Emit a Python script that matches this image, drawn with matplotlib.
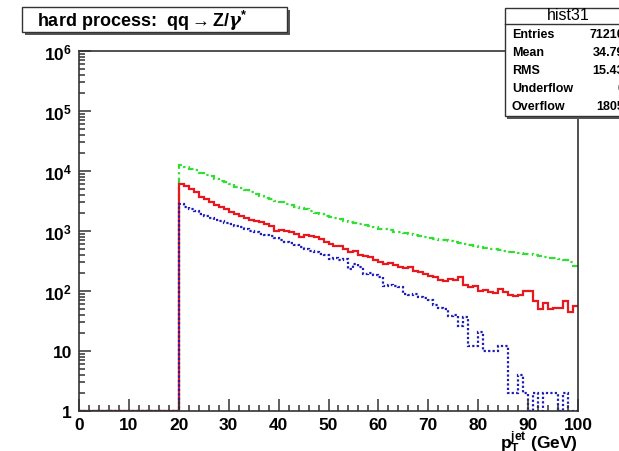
import numpy as np
import matplotlib
matplotlib.use("Agg")
import matplotlib.pyplot as plt
from matplotlib.patches import Rectangle
from matplotlib.ticker import MultipleLocator, LogLocator, FuncFormatter

plt.rcParams.update({
    "font.family": ["Liberation Sans", "DejaVu Sans"],
    "font.weight": "bold",
    "mathtext.fontset": "custom",
    "mathtext.rm": "Liberation Sans:bold",
    "mathtext.bf": "Liberation Sans:bold",
    "mathtext.it": "Liberation Sans:bold:italic",
    "mathtext.sf": "DejaVu Serif:italic",
    "mathtext.default": "bf",
})

# 1 GeV bins, 0..100 ; bins below 20 GeV are empty
edges = np.arange(0, 101, 1)

green = [0] * 20 + [
    12500, 11800, 10700, 10200, 9300, 8600, 8200, 7400, 6900, 6500,
    6000, 5500, 5300, 4800, 4400, 4100, 3800, 3600, 3400, 3200,
    3000, 2800, 2700, 2500, 2450, 2300, 2150, 2000, 1900, 1800,
    1720, 1650, 1560, 1480, 1420, 1360, 1300, 1240, 1200, 1150,
    1100, 1060, 1020, 980, 950, 910, 880, 850, 820, 790,
    770, 740, 720, 700, 680, 650, 640, 610, 590, 570,
    540, 530, 510, 500, 480, 470, 455, 440, 430, 420,
    410, 395, 380, 370, 360, 350, 345, 330, 300, 260]

red = [0] * 20 + [
    6000, 5600, 5000, 4500, 3700, 3400, 3100, 2700, 2500, 2300,
    2100, 1900, 1800, 1650, 1550, 1480, 1400, 1300, 1230, 1000,
    1050, 1000, 950, 880, 800, 870, 820, 800, 740, 660,
    600, 570, 560, 500, 450, 470, 400, 380, 370, 330,
    300, 285, 290, 270, 250, 240, 250, 215, 205, 195,
    175, 170, 150, 145, 160, 150, 170, 125, 115, 120,
    100, 102, 95, 92, 108, 95, 85, 82, 86, 100,
    100, 68, 50, 62, 50, 52, 53, 68, 45, 57]

blue = [0] * 20 + [
    2800, 2500, 2330, 2150, 1900, 1800, 1650, 1550, 1480, 1380,
    1300, 1230, 1150, 1080, 1000, 950, 900, 850, 830, 760,
    700, 650, 620, 580, 540, 500, 470, 440, 415, 400,
    340, 350, 330, 340, 234, 280, 250, 192, 200, 185,
    170, 120, 125, 120, 115, 90, 85, 88, 80, 75,
    70, 58, 52, 50, 38, 40, 26, 37, 12, 12,
    21, 10, 10, 10, 12, 12, 2, 2, 4, 2,
    1, 2, 1, 2, 2, 2, 1, 2, 1, 1]

stat_names = ["Entries", "Mean", "RMS", "Underflow", "Overflow"]
stat_values = ["71210", "34.79", "15.43", "0", "1805"]

W, H = 619, 452
fig = plt.figure(figsize=(W / 100, H / 100), dpi=100)
ax = fig.add_axes([79 / W, 1 - 412 / H, 499 / W, 360 / H])


def px(x, y):
    return x / W, 1 - y / H


# zero bins sit on the bottom of the log axis, like ROOT does
ax.stairs(np.maximum(green, 1), edges, baseline=None, color="#33dd33",
          lw=1.6, ls=(0, (3, 1.5, 1, 1.5)))
ax.stairs(np.maximum(red, 1), edges, baseline=None, color="#e8191e", lw=1.6)
ax.stairs(np.maximum(blue, 1), edges, baseline=None, color="#1c1cb8",
          lw=1.6, ls=(0, (1, 1)))

ax.set_yscale("log")
ax.set_xlim(0, 100)
ax.set_ylim(1, 1e6)

ax.xaxis.set_major_locator(MultipleLocator(10))
ax.xaxis.set_minor_locator(MultipleLocator(2))
ax.yaxis.set_major_locator(LogLocator(base=10, numticks=10))
ax.yaxis.set_minor_locator(LogLocator(base=10, subs=np.arange(2, 10), numticks=20))


def ylab(v, pos):
    e = int(round(np.log10(v)))
    if e == 0:
        return "1"
    if e == 1:
        return "10"
    return r"$10^{%d}$" % e


ax.yaxis.set_major_formatter(FuncFormatter(ylab))
ax.tick_params(which="both", direction="in", top=False, right=False,
               color="#333333", width=1.1, labelsize=12.5)
ax.tick_params(which="major", length=8.5)
ax.tick_params(which="minor", length=4)
ax.tick_params(axis="x", pad=4)
ax.tick_params(axis="y", pad=5)
for s in ax.spines.values():
    s.set_color("#333333")
    s.set_linewidth(1.2)

fig.text(578 / W, 1 - 443 / H, r"p$_{T}^{jet}$ (GeV)", ha="right",
         va="center", fontsize=12.5)

# title box with ROOT-style shadow
x0, y0 = px(22, 33)
bw, bh = 265 / W, 25 / H
fig.patches.append(Rectangle((x0 + 3 / W, y0 - 3 / H), bw, bh, transform=fig.transFigure,
                             facecolor="#555555", edgecolor="none", zorder=5))
fig.patches.append(Rectangle((x0, y0), bw, bh, transform=fig.transFigure,
                             facecolor="white", edgecolor="#333333", lw=1.0, zorder=6))
fig.text(37 / W, 1 - 21 / H, r"hard process:  qq$\rightarrow$Z/$\mathsf{\gamma}^{*}$",
         ha="left", va="center", fontsize=13, zorder=7)

# stats box, partly cut off by the figure edge
sx0, sy0 = px(505, 117)
sw, sh = 140 / W, 108 / H
fig.patches.append(Rectangle((sx0 + 2 / W, sy0 - 3 / H), sw, sh, transform=fig.transFigure,
                             facecolor="#555555", edgecolor="none", zorder=5))
fig.patches.append(Rectangle((sx0, sy0), sw, sh, transform=fig.transFigure,
                             facecolor="white", edgecolor="#333333", lw=1.0, zorder=6))
fig.add_artist(plt.Line2D([505 / W, 1], [1 - 25 / H, 1 - 25 / H], transform=fig.transFigure,
                          color="#333333", lw=1.0, zorder=7))
fig.text(568 / W, 1 - 16 / H, "hist31", ha="center", va="center",
         fontsize=11.5, fontweight="normal", zorder=7)
for i, (n, v) in enumerate(zip(stat_names, stat_values)):
    yy = 1 - (35 + 18 * i) / H
    fig.text(512 / W, yy, n, ha="left", va="center", fontsize=9, zorder=7)
    fig.text(624 / W, yy, v, ha="right", va="center", fontsize=9, zorder=7)

fig.savefig("out.png", dpi=100)
